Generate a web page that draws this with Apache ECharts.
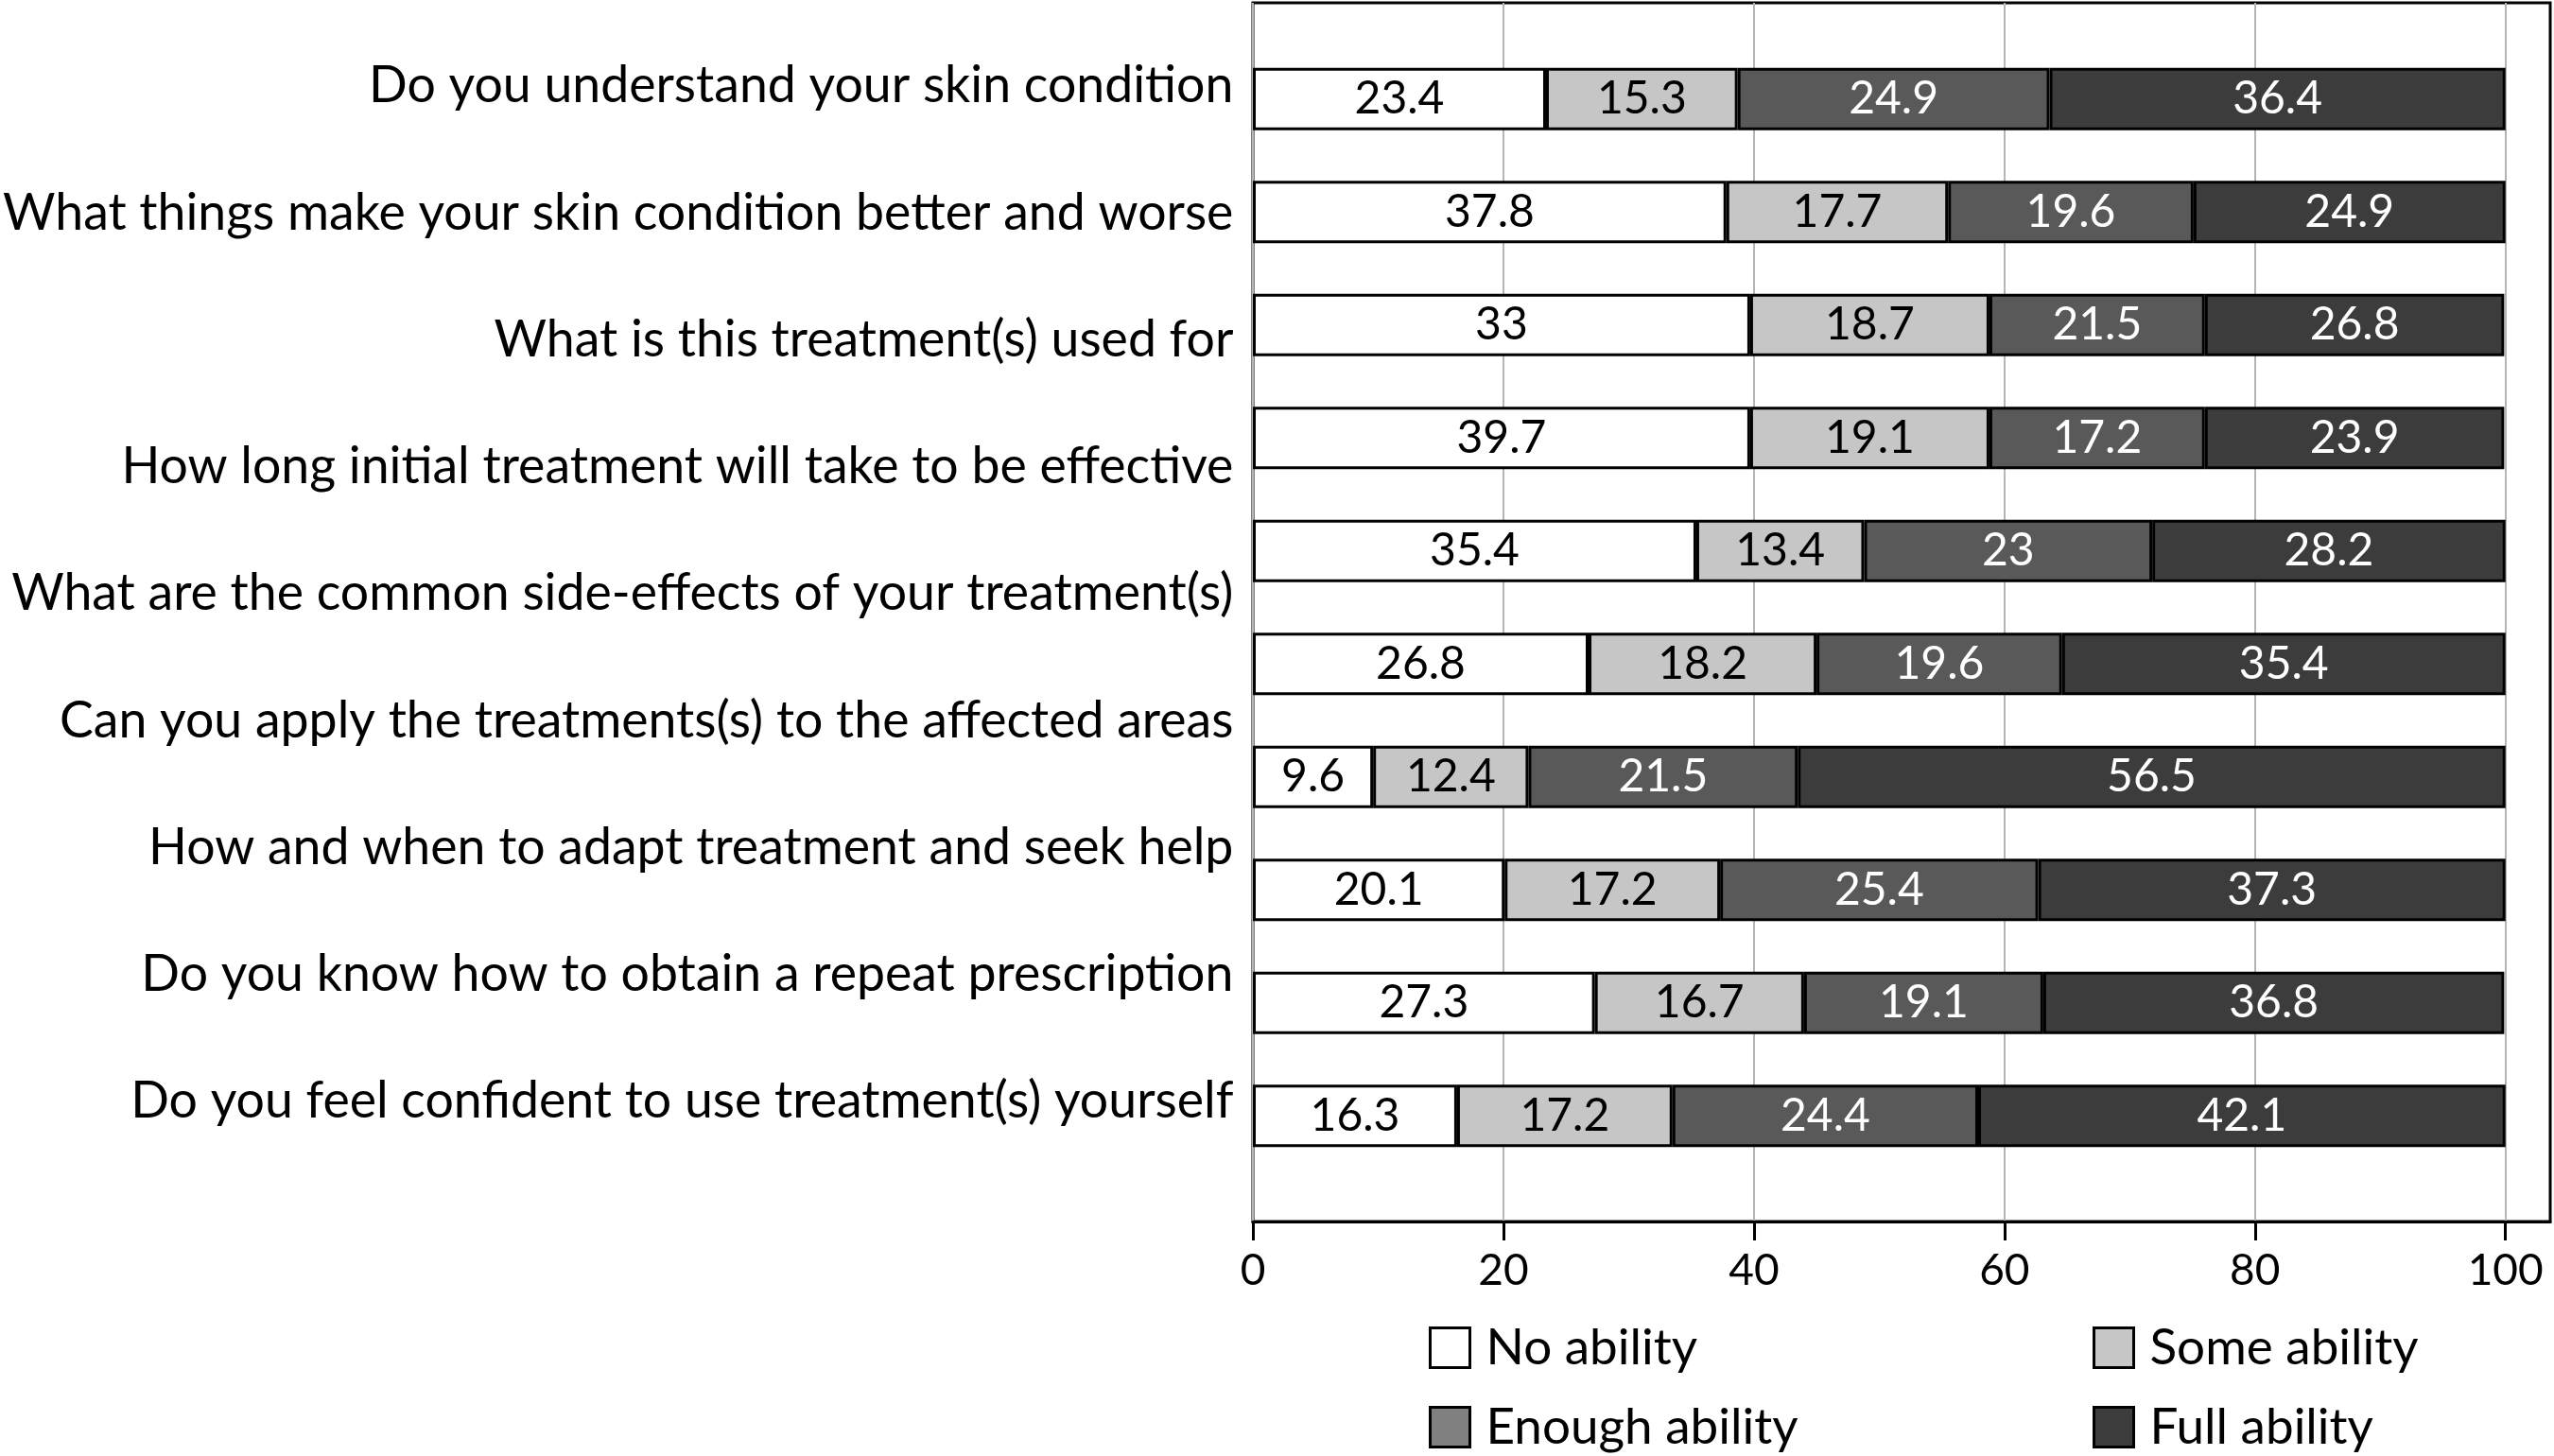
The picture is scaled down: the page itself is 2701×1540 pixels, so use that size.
<!DOCTYPE html>
<html>
<head>
<meta charset="utf-8">
<script src="https://cdn.jsdelivr.net/npm/echarts@6/dist/echarts.min.js"></script>
<style>
html,body{margin:0;padding:0;background:#fff;}
#chart{width:2701px;height:1540px;}
</style>
</head>
<body>
<div id="chart"></div>
<script>
// Question labels (9 labels printed in the figure)
const questions = [
  'Do you understand your skin condition',
  'What things make your skin condition better and worse',
  'What is this treatment(s) used for',
  'How long initial treatment will take to be effective',
  'What are the common side-effects of your treatment(s)',
  'Can you apply the treatments(s) to the affected areas',
  'How and when to adapt treatment and seek help',
  'Do you know how to obtain a repeat prescription',
  'Do you feel confident to use treatment(s) yourself'
];
// 10 bars drawn in the figure
const barRows = ['1','2','3','4','5','6','7','8','9','10'];
const seriesNames = ['No ability','Some ability','Enough ability','Full ability'];

// Segment lengths as drawn (row 3 is drawn with the same geometry as row 4)
const noAbility     = [23.4, 37.8, 39.7, 39.7, 35.4, 26.8,  9.6, 20.1, 27.3, 16.3];
const someAbility   = [15.3, 17.7, 19.1, 19.1, 13.4, 18.2, 12.4, 17.2, 16.7, 17.2];
const enoughAbility = [24.9, 19.6, 17.2, 17.2, 23.0, 19.6, 21.5, 25.4, 19.1, 24.4];
const fullAbility   = [36.4, 24.9, 23.9, 23.9, 28.2, 35.4, 56.5, 37.3, 36.8, 42.1];

// Numbers printed inside the segments
const noAbilityText     = ['23.4','37.8','33','39.7','35.4','26.8','9.6','20.1','27.3','16.3'];
const someAbilityText   = ['15.3','17.7','18.7','19.1','13.4','18.2','12.4','17.2','16.7','17.2'];
const enoughAbilityText = ['24.9','19.6','21.5','17.2','23','19.6','21.5','25.4','19.1','24.4'];
const fullAbilityText   = ['36.4','24.9','26.8','23.9','28.2','35.4','56.5','37.3','36.8','42.1'];

const xTicks = [0, 20, 40, 60, 80, 100];

const FONT = 'Lato';
const X_MAX = 103.57;
const colors = ['#ffffff', '#c6c6c6', '#595959', '#3c3c3c'];
const legendColors = ['#ffffff', '#c6c6c6', '#808080', '#3c3c3c'];
const labelColors = ['#000', '#000', '#fff', '#fff'];
const values = [noAbility, someAbility, enoughAbility, fullAbility];
const texts = [noAbilityText, someAbilityText, enoughAbilityText, fullAbilityText];

const chart = echarts.init(document.getElementById('chart'), null, {renderer: 'canvas'});

const series = seriesNames.map((name, i) => ({
  name: name,
  type: 'bar',
  stack: 'total',
  xAxisIndex: 1,
  yAxisIndex: 1,
  barWidth: 66,
  data: values[i],
  itemStyle: {color: colors[i], borderColor: '#000', borderWidth: 3},
  label: {
    show: true,
    position: 'inside',
    fontFamily: FONT,
    fontSize: 48,
    color: labelColors[i],
    formatter: p => texts[i][p.dataIndex]
  },
  emphasis: {disabled: true},
  animation: false
}));

const legendPos = [
  {left: 1511, top: 1399},
  {left: 2213, top: 1399},
  {left: 1511, top: 1483},
  {left: 2213, top: 1483}
];
const legends = seriesNames.map((name, i) => ({
  left: legendPos[i].left,
  top: legendPos[i].top,
  padding: 0,
  selectedMode: false,
  itemWidth: 42,
  itemHeight: 42,
  icon: 'rect',
  data: [{name: name, itemStyle: {color: legendColors[i], borderColor: '#000', borderWidth: 3}}],
  textStyle: {fontFamily: FONT, fontSize: 53, lineHeight: 53, color: '#000', padding: [0, 0, 0, 12]}
}));

const option = {
  backgroundColor: '#fff',
  animation: false,
  textStyle: {fontFamily: FONT},
  legend: legends,
  grid: [
    {left: 1325, right: 4, top: 3, bottom: 248, show: true, borderColor: '#000', borderWidth: 3, backgroundColor: 'transparent'},
    {left: 1325, right: 4, top: 45, bottom: 300},
    {left: 1325, right: 4, top: 24, bottom: 308}
  ],
  xAxis: [
    {
      gridIndex: 0, type: 'value', min: 0, max: X_MAX, interval: 20,
      axisLine: {show: true, lineStyle: {color: '#000', width: 3}},
      axisTick: {show: true, length: 20, lineStyle: {color: '#000', width: 3}, customValues: xTicks},
      axisLabel: {show: true, fontFamily: FONT, fontSize: 46, color: '#000', margin: 29, customValues: xTicks},
      splitLine: {show: true, lineStyle: {color: '#b5b5b5', width: 2}}
    },
    {gridIndex: 1, type: 'value', min: 0, max: X_MAX, show: false, splitLine: {show: false}},
    {gridIndex: 2, type: 'value', min: 0, max: X_MAX, show: false, splitLine: {show: false}}
  ],
  yAxis: [
    {gridIndex: 0, type: 'value', show: false, splitLine: {show: false}},
    {gridIndex: 1, type: 'category', data: barRows, inverse: true, show: false},
    {
      gridIndex: 2, type: 'category', data: questions, inverse: true,
      axisLine: {show: false}, axisTick: {show: false},
      axisLabel: {fontFamily: FONT, fontSize: 53.6, color: '#000', margin: 21}
    }
  ],
  series: series
};
chart.setOption(option);
</script>
</body>
</html>
